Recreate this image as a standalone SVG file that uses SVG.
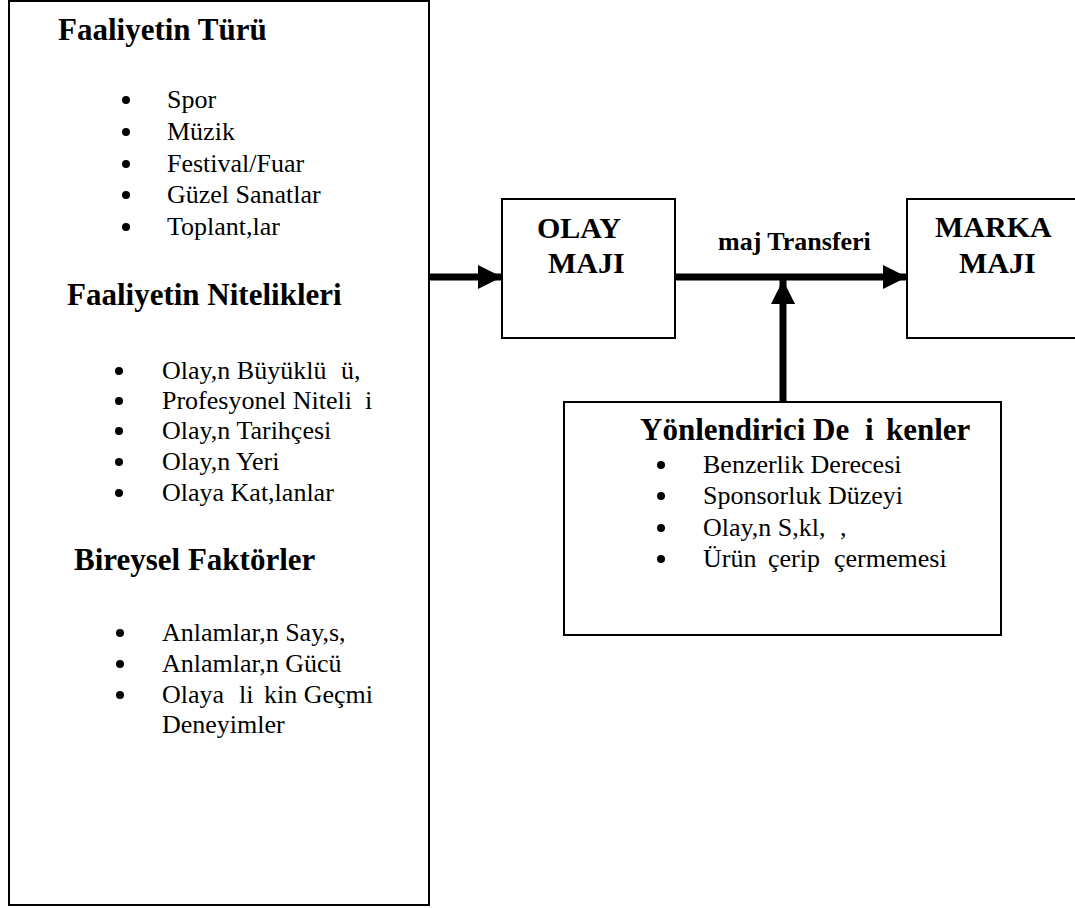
<svg xmlns="http://www.w3.org/2000/svg" width="1075" height="908" viewBox="0 0 1075 908">
<style>
  .box { fill: #fff; stroke: #000; stroke-width: 2; }
  .h { font-family: "Liberation Serif", "Times New Roman", serif; font-weight: bold; font-size: 31px; fill: #000; }
  .hb { font-family: "Liberation Serif", "Times New Roman", serif; font-weight: bold; font-size: 30px; fill: #000; }
  .t { font-family: "Liberation Serif", "Times New Roman", serif; font-size: 26px; fill: #000; }
  .lbl { font-family: "Liberation Serif", "Times New Roman", serif; font-weight: bold; font-size: 26px; fill: #000; }
  .b { fill: #000; }
  .conn { stroke: #000; stroke-width: 7; fill: none; }
</style>
<defs>
  <marker id="ah" markerUnits="userSpaceOnUse" markerWidth="26" markerHeight="24" refX="24" refY="12" orient="auto">
    <path d="M0,0 L24,12 L0,24 Z" fill="#000"/>
  </marker>
</defs>
<rect width="1075" height="908" fill="#fff"/>

<g id="factors">
  <rect class="box" x="9" y="1" width="420" height="904"/>
  <text class="h" x="58" y="40">Faaliyetin Türü</text>
  <g class="b">
    <circle cx="126" cy="100" r="4"/><circle cx="126" cy="132" r="4"/><circle cx="126" cy="164" r="4"/><circle cx="126" cy="195" r="4"/><circle cx="126" cy="227" r="4"/>
  </g>
  <text class="t" x="167" y="108">Spor</text>
  <text class="t" x="167" y="140">Müzik</text>
  <text class="t" x="167" y="172">Festival/Fuar</text>
  <text class="t" x="167" y="203">Güzel Sanatlar</text>
  <text class="t" x="167" y="235">Toplant,lar</text>

  <text class="h" x="67" y="305">Faaliyetin Nitelikleri</text>
  <g class="b">
    <circle cx="119" cy="371" r="4"/><circle cx="119" cy="401" r="4"/><circle cx="119" cy="431" r="4"/><circle cx="119" cy="462" r="4"/><circle cx="119" cy="493" r="4"/>
  </g>
  <text class="t" x="162" y="379">Olay,n Büyüklü<tspan x="341">ü,</tspan></text>
  <text class="t" x="162" y="409">Profesyonel Niteli<tspan x="365">i</tspan></text>
  <text class="t" x="162" y="439">Olay,n Tarihçesi</text>
  <text class="t" x="162" y="470">Olay,n Yeri</text>
  <text class="t" x="162" y="501">Olaya Kat,lanlar</text>

  <text class="h" x="74" y="570">Bireysel Faktörler</text>
  <g class="b">
    <circle cx="120" cy="633" r="4"/><circle cx="120" cy="664" r="4"/><circle cx="120" cy="695" r="4"/>
  </g>
  <text class="t" x="162" y="641">Anlamlar,n Say,s,</text>
  <text class="t" x="162" y="672">Anlamlar,n Gücü</text>
  <text class="t" x="162" y="703">Olaya<tspan x="239">li</tspan><tspan x="264">kin Geçmi</tspan></text>
  <text class="t" x="162" y="733">Deneyimler</text>
</g>

<g id="olay">
  <rect class="box" x="502" y="199" width="173" height="139"/>
  <text class="hb" x="537" y="238">OLAY</text>
  <text class="hb" x="548" y="273">MAJI</text>
</g>

<g id="marka">
  <rect class="box" x="907" y="199" width="180" height="139"/>
  <text class="hb" x="935" y="237">MARKA</text>
  <text class="hb" x="959" y="273">MAJI</text>
</g>

<g id="moderators">
  <rect class="box" x="564" y="402" width="437" height="233"/>
  <text class="h" x="640" y="440">Yönlendirici De<tspan x="865">i</tspan><tspan x="886">kenler</tspan></text>
  <g class="b">
    <circle cx="661" cy="465" r="4"/><circle cx="661" cy="496" r="4"/><circle cx="661" cy="528" r="4"/><circle cx="661" cy="559" r="4"/>
  </g>
  <text class="t" x="703" y="473">Benzerlik Derecesi</text>
  <text class="t" x="703" y="504">Sponsorluk Düzeyi</text>
  <text class="t" x="703" y="536">Olay,n S,kl,<tspan x="840">,</tspan></text>
  <text class="t" x="703" y="567">Ürün<tspan x="768">çerip</tspan><tspan x="834">çermemesi</tspan></text>
</g>

<g id="connectors">
  <line class="conn" x1="430" y1="277" x2="502" y2="277" marker-end="url(#ah)"/>
  <line class="conn" x1="676" y1="277" x2="907" y2="277" marker-end="url(#ah)"/>
  <line class="conn" x1="783" y1="401" x2="783" y2="280" marker-end="url(#ah)"/>
  <text class="lbl" x="718" y="250">maj Transferi</text>
</g>
</svg>
